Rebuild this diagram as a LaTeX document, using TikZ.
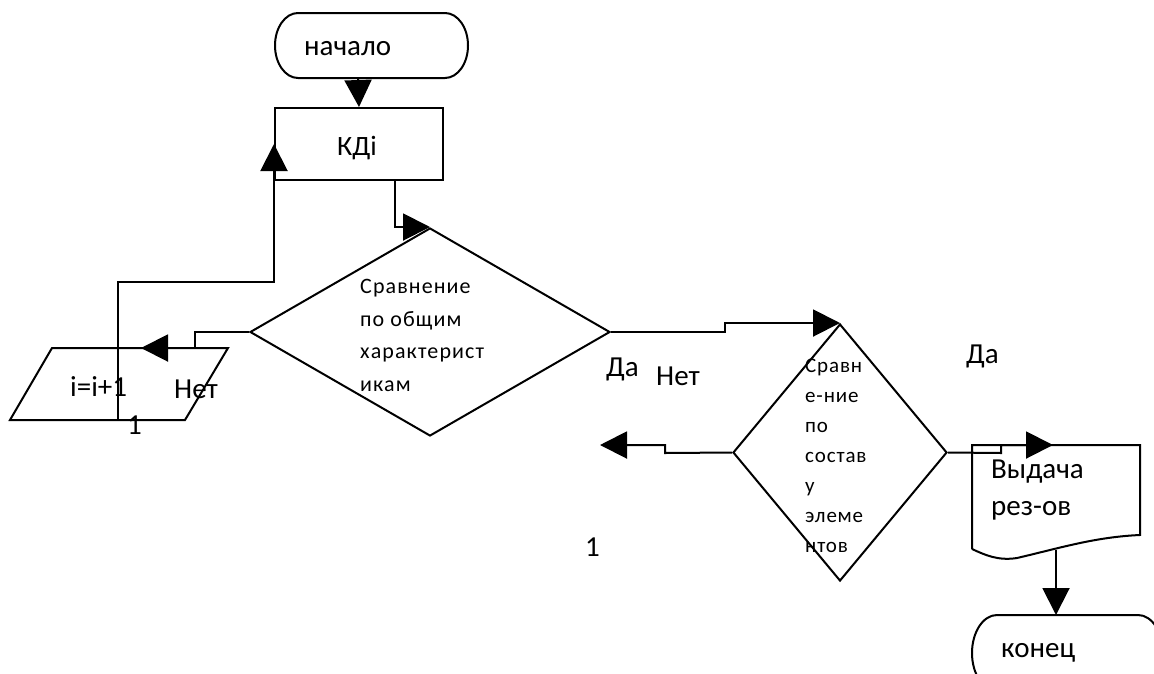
\documentclass[tikz,border=0pt]{standalone}
\usepackage{fontspec}
\setmainfont{Carlito}
\usetikzlibrary{arrows.meta,shapes.geometric,calc}
\begin{document}
\begin{tikzpicture}[x=1pt,y=-1pt,
  line/.style={line width=2pt},
  arr/.style={line, -{Triangle[length=27pt,width=27pt]}},
  box/.style={draw, line width=2pt, inner sep=0pt},
  lbl/.style={font=\fontsize{29}{32}\selectfont, inner sep=0pt, anchor=base west},
  dtext/.style={font=\fontsize{22}{24}\selectfont\addfontfeature{LetterSpace=5}, inner sep=0pt, anchor=base west},
  dtextsm/.style={font=\fontsize{21}{22}\selectfont\addfontfeature{LetterSpace=4}, inner sep=0pt, anchor=base west},
]
\useasboundingbox (0,0) rectangle (1154,673);
\clip (0,0) rectangle (1154,673);

% start terminal (stadium with elliptic ends)
\draw[line] (298,13) -- (445,13)
  .. controls (457.7,13) and (468,27.55) .. (468,45.5)
  .. controls (468,63.45) and (457.7,78) .. (445,78)
  -- (298,78)
  .. controls (285.3,78) and (275,63.45) .. (275,45.5)
  .. controls (275,27.55) and (285.3,13) .. cycle;
\node[lbl] (start) at (304,55) {начало};
\coordinate (startBot) at (358,78);

% first process
\node[box, minimum width=168pt, minimum height=72pt] (kd) at (359,144) {};
\node[lbl, font=\fontsize{28}{32}\selectfont] (kdT) at (337,155) {КДi};

% first decision
\node[box, diamond, minimum width=360pt, minimum height=208pt] (d1) at (430,332) {};
\node[dtext] (d1a) at (360,293) {Сравнение};
\node[dtext] (d1b) at (360,326) {по общим};
\node[dtext] (d1c) at (360,358) {характерист};
\node[dtext] (d1d) at (360,391) {икам};

% increment block (parallelogram)
\draw[line] (52,348) -- (228,348) -- (185,420) -- (10,420) -- cycle;
\coordinate (incTip) at (141,348);
\coordinate (loopS) at (118,420);
\coordinate (loopBend) at (118,282);
\node[lbl] (incT) at (70,396) {i=i+1};
\node[lbl] (no1) at (174,398) {Нет};
\node[lbl] (one1) at (127,434) {1};

% second decision
\node[box, diamond, minimum width=214pt, minimum height=257pt] (d2) at (840,452.5) {};
\node[dtextsm] (d2a) at (805,372) {Сравн};
\node[dtextsm] (d2b) at (805,402) {е-ние};
\node[dtextsm] (d2c) at (805,432) {по};
\node[dtextsm] (d2d) at (805,462) {состав};
\node[dtextsm] (d2e) at (805,492) {у};
\node[dtextsm] (d2f) at (805,522) {элеме};
\node[dtextsm] (d2g) at (805,552) {нтов};

\node[lbl] (yes1) at (606,376) {Да};
\node[lbl] (no2) at (656,385) {Нет};
\node[lbl] (one2) at (585,556) {1};
\node[lbl] (yes2) at (966,363) {Да};

% output document
\draw[line] (972,549) -- (972,445) -- (1140,445) -- (1140,535)
  .. controls (1095,537) and (1060,548) .. (1017,558)
  .. controls (998,561) and (985,555) .. (972,549);
\coordinate (docTip) at (1053,445);
\coordinate (docBot) at (1056,550);
\node[lbl] (outA) at (991,478) {Выдача};
\node[lbl] (outB) at (991,515) {рез-ов};

% end terminal
\draw[line] (1138,615) -- (997,615)
  .. controls (983.2,615) and (972,632) .. (972,653)
  .. controls (972,674) and (983.2,691) .. (997,691)
  -- (1138,691)
  .. controls (1151.8,691) and (1163,674) .. (1163,653)
  .. controls (1163,632) and (1151.8,615) .. cycle;
\node[lbl] (stop) at (1001,657) {конец};
\coordinate (stopTop) at (1056,615);

% connector joints
\coordinate (j1) at (725,332);
\coordinate (j2) at (665,453);
\coordinate (yesTip) at (600,445);
\coordinate (j3) at (1001,453);
\coordinate (j4) at (1001,445);

% connectors
\draw[arr] (startBot) -- (kd.north);
\draw[arr] ([xshift=36pt]kd.south) |- (d1.north);
\draw[arr] (d1.west) -- ++(-54,0) |- (incTip);
\draw[arr] (loopS) -- (loopBend) -| (kd.west);
\draw[arr] (d1.east) -- (j1) |- (d2.north);
\draw[arr] (d2.west) -- (j2) |- (yesTip);
\draw[arr] (d2.east) -- (j3) -- (j4) -- (docTip);
\draw[arr] (docBot) -- (stopTop);
\end{tikzpicture}
\end{document}
